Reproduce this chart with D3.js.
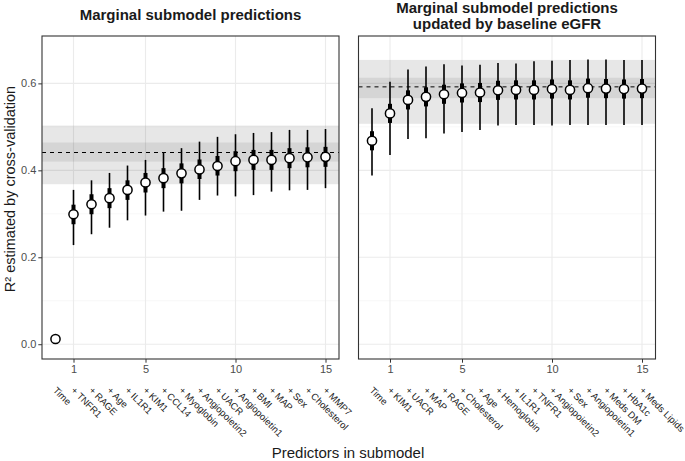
<!DOCTYPE html>
<html><head><meta charset="utf-8">
<script src="https://cdn.jsdelivr.net/npm/d3@7"></script>
<style>body{margin:0;background:#fff}</style>
</head><body>
<svg id="c" width="685" height="461"></svg>
<script>
// ---- data ----
const labelsLeft = ["Time","+ TNFR1","+ RAGE","+ Age","+ IL1R1","+ KIM1","+ CCL14","+ Myoglobin","+ Angiopoietin2","+ UACR","+ Angiopoietin1","+ BMI","+ MAP","+ Sex","+ Cholesterol","+ MMP7"];
const estLeft  = [0.012,0.299,0.322,0.336,0.355,0.372,0.382,0.393,0.402,0.410,0.421,0.424,0.424,0.428,0.430,0.431];
const lo95Left = [null,0.228,0.253,0.268,0.285,0.296,0.305,0.307,0.332,0.342,0.340,0.343,0.351,0.354,0.355,0.359];
const hi95Left = [null,0.355,0.377,0.394,0.411,0.424,0.442,0.451,0.466,0.477,0.483,0.486,0.488,0.493,0.493,0.495];
const lo50Left = [null,0.276,0.299,0.313,0.332,0.349,0.359,0.370,0.380,0.388,0.398,0.401,0.401,0.405,0.407,0.408];
const hi50Left = [null,0.321,0.345,0.359,0.377,0.394,0.405,0.416,0.425,0.433,0.444,0.447,0.447,0.451,0.453,0.454];
const refLeft = {mid:0.441, innerLo:0.420, innerHi:0.464, outerLo:0.368, outerHi:0.503};

const labelsRight = ["Time","+ KIM1","+ UACR","+ MAP","+ RAGE","+ Cholesterol","+ Age","+ Hemoglobin","+ IL1R1","+ TNFR1","+ Angiopoietin2","+ Sex","+ Angiopoietin1","+ Meds DM","+ HbA1c","+ Meds Lipids"];
const estRight  = [0.468,0.531,0.562,0.569,0.575,0.578,0.579,0.584,0.585,0.585,0.587,0.585,0.589,0.588,0.587,0.588];
const lo95Right = [0.388,0.435,0.472,0.474,0.485,0.488,0.493,0.503,0.504,0.504,0.503,0.504,0.504,0.504,0.504,0.504];
const hi95Right = [0.543,0.604,0.632,0.639,0.644,0.641,0.643,0.647,0.646,0.651,0.652,0.654,0.655,0.655,0.654,0.654];
const lo50Right = [0.446,0.509,0.540,0.547,0.553,0.556,0.557,0.562,0.563,0.563,0.565,0.563,0.567,0.566,0.565,0.566];
const hi50Right = [0.490,0.553,0.584,0.591,0.597,0.600,0.601,0.606,0.607,0.607,0.609,0.607,0.611,0.610,0.609,0.610];
const refRight = {mid:0.592, innerLo:0.566, innerHi:0.613, outerLo:0.507, outerHi:0.654};

const yTicks = [0.0,0.2,0.4,0.6];
const yMinor = [0.1,0.3,0.5];
const xTicks = [1,5,10,15];

const titleLeft = ["Marginal submodel predictions"];
const titleRight = ["Marginal submodel predictions","updated by baseline eGFR"];

// ---- drawing ----
const svg = d3.select("#c");
const FONT = "'Liberation Sans', Arial, sans-serif";
const pTop = 36, pBottom = 359;
const y = d3.scaleLinear().domain([-0.034, 0.709]).range([pBottom, pTop]);

function panel(x0, x1, labels, est, lo95, hi95, lo50, hi50, ref, title, showY) {
  const x = d3.scaleLinear().domain([-0.75, 15.75]).range([x0, x1]);
  const g = svg.append("g");
  // grid
  g.selectAll(".ymin").data(yMinor).join("line")
    .attr("x1", x0).attr("x2", x1).attr("y1", d=>y(d)).attr("y2", d=>y(d))
    .attr("stroke", "#f2f2f2").attr("stroke-width", 0.6);
  g.selectAll(".ymaj").data(yTicks).join("line")
    .attr("x1", x0).attr("x2", x1).attr("y1", d=>y(d)).attr("y2", d=>y(d))
    .attr("stroke", "#ebebeb").attr("stroke-width", 1.1);
  g.selectAll(".xmaj").data(xTicks).join("line")
    .attr("y1", pTop).attr("y2", pBottom).attr("x1", d=>x(d)).attr("x2", d=>x(d))
    .attr("stroke", "#ebebeb").attr("stroke-width", 1.1);
  // bands
  g.append("rect").attr("x", x0).attr("width", x1-x0)
    .attr("y", y(ref.outerHi)).attr("height", y(ref.outerLo)-y(ref.outerHi))
    .attr("fill", "#000").attr("fill-opacity", 0.095);
  g.append("rect").attr("x", x0).attr("width", x1-x0)
    .attr("y", y(ref.innerHi)).attr("height", y(ref.innerLo)-y(ref.innerHi))
    .attr("fill", "#000").attr("fill-opacity", 0.075);
  g.append("line").attr("x1", x0).attr("x2", x1)
    .attr("y1", y(ref.mid)).attr("y2", y(ref.mid))
    .attr("stroke", "#000").attr("stroke-width", 1).attr("stroke-dasharray", "4,4");
  const idx = d3.range(est.length);
  const withCI = idx.filter(i => lo95[i] !== null);
  g.selectAll(".thin").data(withCI).join("line")
    .attr("x1", i=>x(i)).attr("x2", i=>x(i)).attr("y1", i=>y(lo95[i])).attr("y2", i=>y(hi95[i]))
    .attr("stroke", "#000").attr("stroke-width", 1.6);
  g.selectAll(".thick").data(withCI).join("line")
    .attr("x1", i=>x(i)).attr("x2", i=>x(i)).attr("y1", i=>y(lo50[i])).attr("y2", i=>y(hi50[i]))
    .attr("stroke", "#000").attr("stroke-width", 4);
  g.selectAll(".pt").data(idx).join("circle")
    .attr("cx", i=>x(i)).attr("cy", i=>y(est[i])).attr("r", 4.6)
    .attr("fill", "#fff").attr("stroke", "#000").attr("stroke-width", 1.5);
  // border
  g.append("rect").attr("x", x0).attr("y", pTop).attr("width", x1-x0).attr("height", pBottom-pTop)
    .attr("fill", "none").attr("stroke", "#333").attr("stroke-width", 1.1);
  // x axis
  const xa = svg.append("g").attr("transform", `translate(0,${pBottom})`)
    .call(d3.axisBottom(x).tickValues(xTicks).tickSize(3.7).tickSizeOuter(0).tickPadding(2));
  xa.select(".domain").remove();
  xa.selectAll("line").attr("stroke", "#333");
  xa.selectAll("text").attr("fill", "#4d4d4d").style("font-family", FONT).style("font-size", "11px");
  // rotated predictor labels
  svg.append("g").selectAll("text").data(idx).join("text")
    .attr("transform", i => `translate(${x(i)-3},${391}) rotate(45)`)
    .attr("text-anchor", "start")
    .style("font-family", FONT).style("font-size", "9.5px").attr("fill", "#1a1a1a")
    .text(i => labels[i]);
  if (showY) {
    const ya = svg.append("g").attr("transform", `translate(${x0},0)`)
      .call(d3.axisLeft(y).tickValues(yTicks).tickFormat(d3.format(".1f")).tickSize(3.7).tickSizeOuter(0).tickPadding(2));
    ya.select(".domain").remove();
    ya.selectAll("line").attr("stroke", "#333");
    ya.selectAll("text").attr("fill", "#4d4d4d").style("font-family", FONT).style("font-size", "11px");
  }
  // title
  const cx = (x0 + x1) / 2;
  const base = title.length === 1 ? 20 : 12.5;
  svg.append("g").selectAll("text").data(title).join("text")
    .attr("x", cx).attr("y", (d,i) => base + i*16.8)
    .attr("text-anchor", "middle")
    .style("font-family", FONT).style("font-size", "15px").style("font-weight", "bold")
    .attr("fill", "#1a1a1a").text(d => d);
}

panel(42, 339, labelsLeft, estLeft, lo95Left, hi95Left, lo50Left, hi50Left, refLeft, titleLeft, true);
panel(358.5, 655.5, labelsRight, estRight, lo95Right, hi95Right, lo50Right, hi50Right, refRight, titleRight, false);

// axis titles
svg.append("text").attr("transform", "translate(14.5,189) rotate(-90)")
  .attr("text-anchor", "middle").style("font-family", FONT).style("font-size", "14.5px")
  .attr("fill", "#1a1a1a").text("R² estimated by cross-validation");
svg.append("text").attr("x", 348).attr("y", 457.5)
  .attr("text-anchor", "middle").style("font-family", FONT).style("font-size", "15px")
  .attr("fill", "#1a1a1a").text("Predictors in submodel");
</script>
</body></html>
